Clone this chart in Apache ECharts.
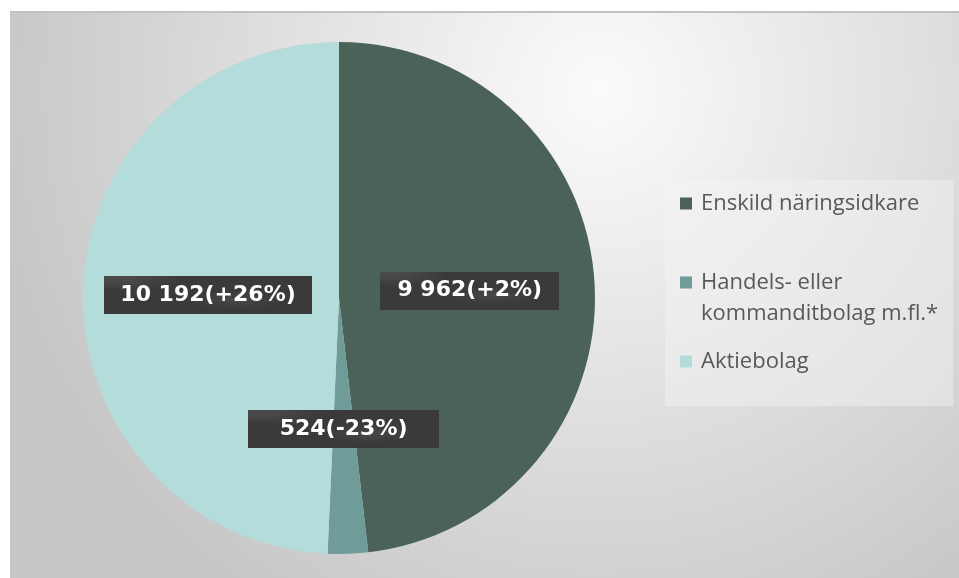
<!DOCTYPE html>
<html>
<head>
<meta charset="utf-8">
<script src="https://cdn.jsdelivr.net/npm/echarts@6/dist/echarts.min.js"></script>
<style>
  html, body { margin: 0; padding: 0; background: #fff; }
  #main { width: 959px; height: 578px; }
</style>
</head>
<body>
<div id="main"></div>
<script>
// data
var categories = ["Enskild näringsidkare", "Handels- eller kommanditbolag m.fl.*", "Aktiebolag"];
var legendNames = ["Enskild näringsidkare", "\nHandels- eller\nkommanditbolag m.fl.*", "Aktiebolag"];
var values = [9962, 524, 10192];
var changes = ["+2%", "-23%", "+26%"];
var colors = ["#4b6258", "#6f9b98", "#b4dcda"];
// label box side padding (the small slice has a wider box)
var labelPadX = [17, 32, 16];

// dotted dark texture for labels
function makePattern() {
  var c = document.createElement("canvas");
  c.width = 4;
  c.height = 4;
  var ctx = c.getContext("2d");
  ctx.fillStyle = "#3a3a3a";
  ctx.fillRect(0, 0, 4, 4);
  ctx.fillStyle = "#494949";
  ctx.fillRect(0, 0, 1, 1);
  ctx.fillRect(2, 2, 1, 1);
  return c;
}
var pattern = makePattern();

function fmt(v) {
  return String(v).replace(/\B(?=(\d{3})+(?!\d))/g, " ");
}

var seriesData = [];
for (var i = 0; i < values.length; i++) {
  seriesData.push({
    name: legendNames[i],
    value: values[i],
    change: changes[i],
    itemStyle: { color: colors[i] },
    label: { padding: [7, labelPadX[i], 7, labelPadX[i]] },
  });
}

var myChart = echarts.init(document.getElementById("main"));
var option = {
  animation: false,
  graphic: [
    {
      type: "rect",
      silent: true,
      z: -10,
      shape: { x: 10, y: 11, width: 949, height: 567 },
      style: {
        fill: {
          type: "radial",
          x: 600,
          y: 90,
          r: 620,
          global: true,
          colorStops: [
            { offset: 0, color: "#fbfbfb" },
            { offset: 1, color: "#c6c6c6" },
          ],
        },
      },
    },
    {
      type: "rect",
      silent: true,
      z: -9,
      shape: { x: 10, y: 11, width: 949, height: 2 },
      style: { fill: "#c2c2c2" },
    },
  ],
  legend: {
    orient: "vertical",
    left: 665,
    top: 180,
    padding: [8, 15, 29, 15],
    backgroundColor: "rgba(245,245,245,0.45)",
    itemWidth: 12,
    itemHeight: 12,
    itemGap: 17,
    icon: "rect",
    data: legendNames,
    textStyle: {
      fontFamily: "Open Sans",
      fontSize: 22,
      color: "#595959",
      lineHeight: 31,
      padding: [0, 0, 0, 4],
    },
  },
  series: [
    {
      type: "pie",
      center: [339, 298],
      radius: 256,
      startAngle: 90,
      clockwise: true,
      avoidLabelOverlap: false,
      data: seriesData,
      label: {
        show: true,
        position: "inside",
        formatter: function (p) {
          return fmt(p.value) + "(" + p.data.change + ")";
        },
        color: "#fff",
        fontFamily: "DejaVu Sans",
        fontWeight: "bold",
        fontSize: 22,
        lineHeight: 24,
        backgroundColor: { image: pattern, repeat: "repeat" },
        shadowColor: "rgba(0,0,0,0.45)",
        shadowBlur: 5,
        shadowOffsetX: 3,
        shadowOffsetY: 3,
      },
      labelLine: { show: false },
      emphasis: { disabled: true },
    },
  ],
};
myChart.setOption(option);
</script>
</body>
</html>
